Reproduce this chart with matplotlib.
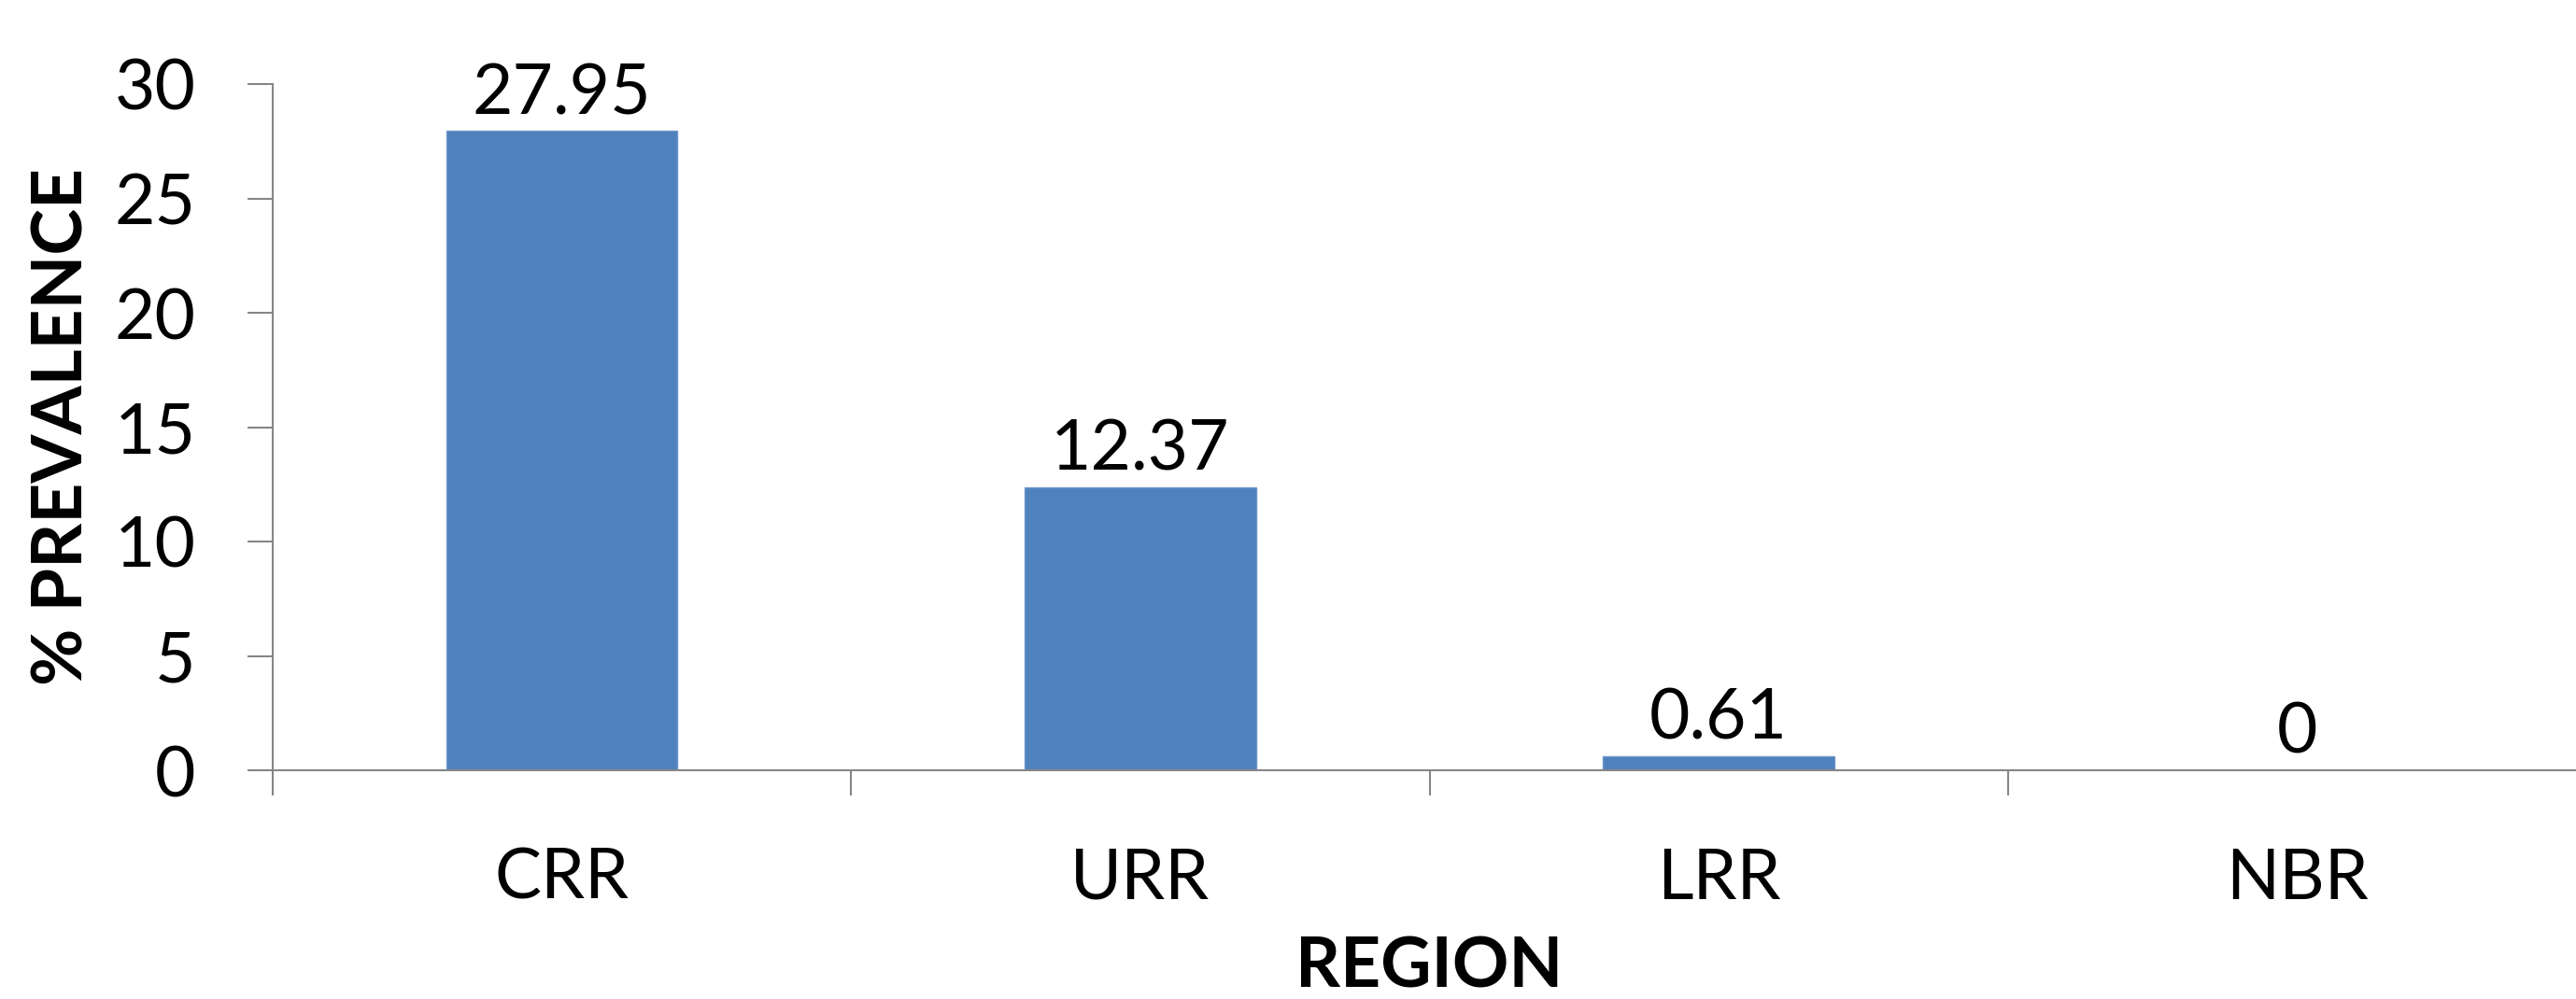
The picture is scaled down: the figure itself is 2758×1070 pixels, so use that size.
import numpy as np
import matplotlib
matplotlib.use("Agg")
from matplotlib import pyplot as plt
from matplotlib.ticker import FixedLocator, NullFormatter

regions = ["CRR", "URR", "LRR", "NBR"]
prevalence = [27.95, 12.37, 0.61, 0]
value_labels = ["27.95", "12.37", "0.61", "0"]
y_ticks = [0, 5, 10, 15, 20, 25, 30]

plt.rcParams['font.family'] = ['Lato', 'DejaVu Sans']

bar_color = "#4F81BD"
axis_color = "#868686"
fsize = 54


def main():
    fig = plt.figure(figsize=(27.58, 10.70), dpi=100)
    ax = fig.add_axes([292 / 2758, 245 / 1070, 2477 / 2758, 735 / 1070])

    x = np.arange(len(regions))
    ax.bar(x, prevalence, width=0.4, color=bar_color, edgecolor="#6f97c9", linewidth=1)

    # value labels above bars
    for xi, v, lab in zip(x, prevalence, value_labels):
        ax.annotate(lab, (xi, v), xytext=(0, 13), textcoords="offset points",
                    ha="center", va="baseline", fontsize=fsize, color="black")

    ax.set_xlim(-0.5, len(regions) - 0.5)
    ax.set_ylim(0, 30)
    ax.set_yticks(y_ticks)
    ax.tick_params(axis="y", labelsize=fsize, length=19.5, width=1.5,
                   color=axis_color, pad=40)

    # ticks between categories, labels in the middle
    ax.xaxis.set_major_locator(FixedLocator(np.arange(-0.5, len(regions), 1.0)))
    ax.xaxis.set_major_formatter(NullFormatter())
    ax.xaxis.set_minor_locator(FixedLocator(x))
    ax.set_xticks(x, regions, minor=True)
    ax.tick_params(axis="x", which="major", length=19.5, width=1.5, color=axis_color)
    ax.tick_params(axis="x", which="minor", length=0, labelsize=fsize, pad=59)

    for s in ["top", "right"]:
        ax.spines[s].set_visible(False)
    for s in ["left", "bottom"]:
        ax.spines[s].set_color(axis_color)
        ax.spines[s].set_linewidth(1.5)

    fig.text(67 / 2758, (1070 - 457) / 1070, "% PREVALENCE",
             rotation=90, ha="center", va="center", fontsize=fsize, fontweight="bold")
    fig.text(1530 / 2758, 0.0, "REGION", ha="center", va="bottom",
             fontsize=fsize, fontweight="bold")

    fig.savefig("out.png", dpi=100)


if __name__ == "__main__":
    main()
